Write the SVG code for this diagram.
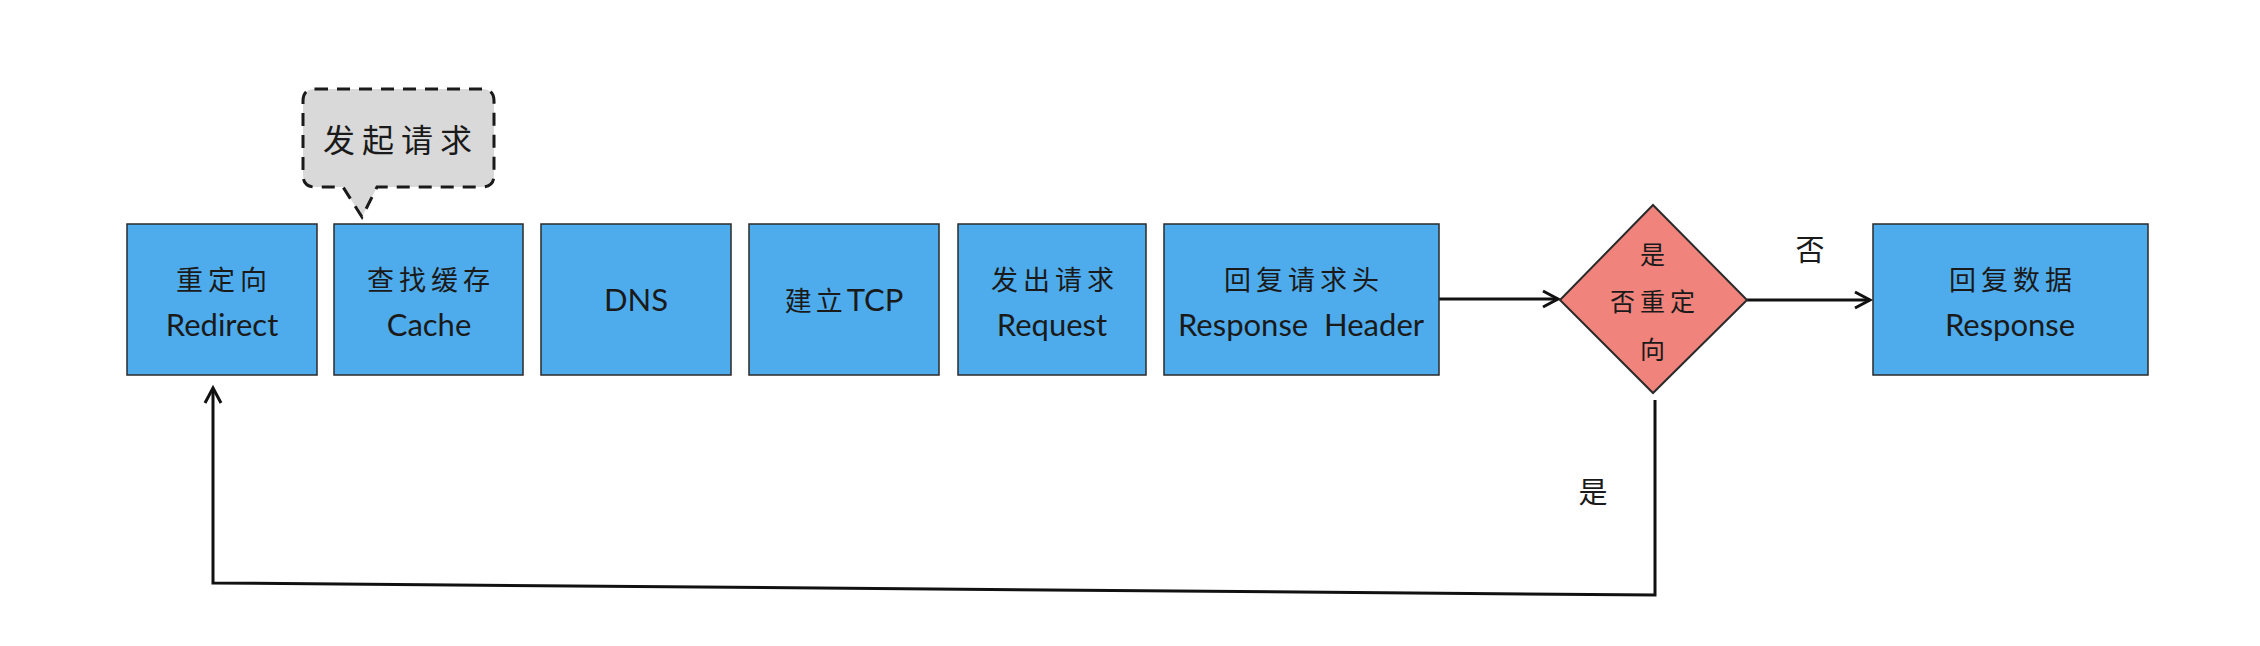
<svg xmlns="http://www.w3.org/2000/svg" width="2260" height="646" viewBox="0 0 2260 646">
<defs>
<style>
.box{fill:#4eacec;stroke:#2a2a2a;stroke-width:1.5}
.dia{fill:#f0837b;stroke:#2a2a2a;stroke-width:2}
.zh{font-family:"Noto Sans CJK SC",sans-serif;font-size:27px;fill:#1a1a1a;text-anchor:middle;letter-spacing:5px}
.en{font-family:"Lato","Noto Sans CJK SC",sans-serif;font-size:31px;fill:#1a1a1a;text-anchor:middle}
.conn{fill:none;stroke:#111;stroke-width:3}
.lbl{font-family:"Noto Sans CJK SC",sans-serif;font-size:29px;fill:#1a1a1a;text-anchor:middle}
</style>
<marker id="arr" markerUnits="userSpaceOnUse" markerWidth="22" markerHeight="22" viewBox="-18 -11 22 22" refX="0" refY="0" orient="auto">
<path d="M-15,-8 L0,0 L-15,8" fill="none" stroke="#111" stroke-width="3"/>
</marker>
</defs>
<rect width="2260" height="646" fill="#ffffff"/>

<g id="connectors">
<line class="conn" x1="1439" y1="299" x2="1558" y2="299" marker-end="url(#arr)"/>
<line class="conn" x1="1747" y1="300" x2="1870" y2="300" marker-end="url(#arr)"/>
<path class="conn" d="M1655,400 L1655,595 L213,583 L213,388" marker-end="url(#arr)"/>
<text class="lbl" x="1810" y="261">否</text>
<text class="lbl" x="1593" y="503">是</text>
</g>

<g id="bubble">
<path d="M315,89 L482,89 Q494,89 494,101 L494,175 Q494,187 482,187 L377,187 L362,217 L343,187 L315,187 Q303,187 303,175 L303,101 Q303,89 315,89 Z" fill="#d9d9d9" stroke="#1a1a1a" stroke-width="3" stroke-dasharray="13 9"/>
<text class="zh" x="401" y="152" style="font-size:32px;letter-spacing:7px">发起请求</text>
</g>

<g id="redirect">
<rect class="box" x="127" y="224" width="190" height="151"/>
<text class="zh" x="224" y="290">重定向</text>
<text class="en" x="222" y="336">Redirect</text>
</g>

<g id="cache">
<rect class="box" x="334" y="224" width="189" height="151"/>
<text class="zh" x="431" y="290">查找缓存</text>
<text class="en" x="429" y="336">Cache</text>
</g>

<g id="dns">
<rect class="box" x="541" y="224" width="190" height="151"/>
<text class="en" x="636" y="311">DNS</text>
</g>

<g id="tcp">
<rect class="box" x="749" y="224" width="190" height="151"/>
<text class="en" x="844" y="311"><tspan style="font-family:'Noto Sans CJK SC',sans-serif;font-size:27px;letter-spacing:4px">建立</tspan>TCP</text>
</g>

<g id="request">
<rect class="box" x="958" y="224" width="188" height="151"/>
<text class="zh" x="1055" y="290">发出请求</text>
<text class="en" x="1052" y="336">Request</text>
</g>

<g id="response-header">
<rect class="box" x="1164" y="224" width="275" height="151"/>
<text class="zh" x="1304" y="290">回复请求头</text>
<text class="en" x="1301" y="336" xml:space="preserve">Response  Header</text>
</g>

<g id="decision">
<polygon class="dia" points="1653,205 1747,300 1653,393 1560,300"/>
<text class="zh" x="1655" y="264" style="font-size:25px">是</text>
<text class="zh" x="1655" y="311" style="font-size:25px">否重定</text>
<text class="zh" x="1655" y="359" style="font-size:25px">向</text>
</g>

<g id="response">
<rect class="box" x="1873" y="224" width="275" height="151"/>
<text class="zh" x="2013" y="290">回复数据</text>
<text class="en" x="2010" y="336">Response</text>
</g>
</svg>
